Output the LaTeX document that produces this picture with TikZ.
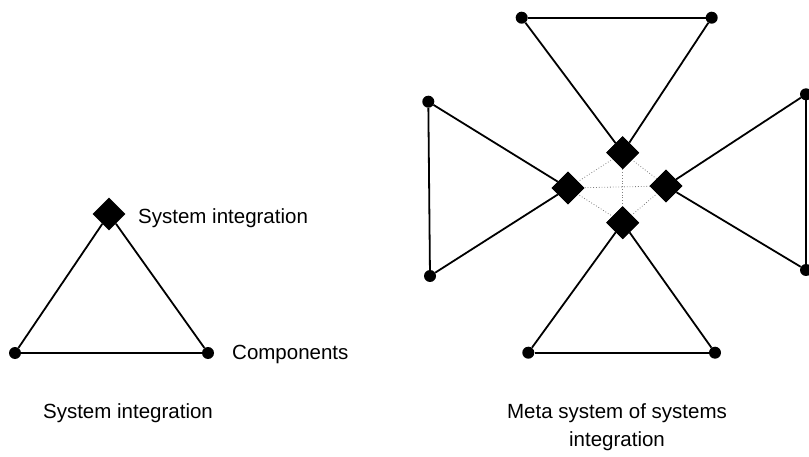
\documentclass[tikz,border=0pt]{standalone}
\usepackage{fontspec}
\setmainfont{Liberation Sans}
\usetikzlibrary{shapes.geometric}
\begin{document}
\begin{tikzpicture}[x=1pt,y=-1pt,
  dia/.style={diamond,fill=black,inner sep=0pt,minimum size=33pt},
  dot/.style={circle,fill=black,inner sep=0pt,minimum size=12pt},
  edge/.style={line width=1.8pt},
  meta/.style={dotted,gray,line width=0.8pt},
  lbl/.style={font=\fontsize{20.5}{28}\selectfont,inner sep=0pt}]
\useasboundingbox (0,0) rectangle (809,457);
\clip (0,0) rectangle (809,457);
% left simple triangle
\node[dot] (a1) at (15,353) {};
\node[dot] (a2) at (208,353) {};
\node[dia] (s) at (109,214) {};
\draw[edge] (a1) -- (a2);
\draw[edge] (s) -- (a1);
\draw[edge] (s) -- (a2);
\node[lbl,anchor=west] (ls) at (138,218) {System integration};
\node[lbl,anchor=west] (lc) at (232,354) {Components};
\node[lbl] (cap1) at (128,413) {System integration};
% meta
\node[dia] (T) at (622.7,152.7) {};
\node[dia] (L) at (568,188) {};
\node[dia] (R) at (666,186) {};
\node[dia] (B) at (622.7,222.7) {};
\node[dot] (t1) at (521.7,17.7) {};
\node[dot] (t2) at (711.7,17.7) {};
\node[dot] (l1) at (428.3,101.7) {};
\node[dot] (l2) at (430,276) {};
\node[dot] (r1) at (806,94.3) {};
\node[dot] (r2) at (806,270) {};
\node[dot] (b1) at (528.3,352.7) {};
\node[dot] (b2) at (715,352.7) {};
\draw[meta] (T.center) -- (L.center);
\draw[meta] (T.center) -- (R.center);
\draw[meta] (B.center) -- (L.center);
\draw[meta] (B.center) -- (R.center);
\draw[meta] (L.center) -- (R.center);
\draw[meta] (T.center) -- (B.center);
\draw[edge] (t1) -- (t2);
\draw[edge] (T) -- (t1);
\draw[edge] (T) -- (t2);
\draw[edge] (l1) -- (l2);
\draw[edge] (L) -- (l1);
\draw[edge] (L) -- (l2);
\draw[edge] (r1) -- (r2);
\draw[edge] (R) -- (r1);
\draw[edge] (R) -- (r2);
\draw[edge] (b1) -- (b2);
\draw[edge] (B) -- (b1);
\draw[edge] (B) -- (b2);
\node[dia] at (T) {};
\node[dia] at (L) {};
\node[dia] at (R) {};
\node[dia] at (B) {};
\node[lbl,align=center] (cap2) at (617,427) {Meta system of systems\\integration};
\end{tikzpicture}
\end{document}
